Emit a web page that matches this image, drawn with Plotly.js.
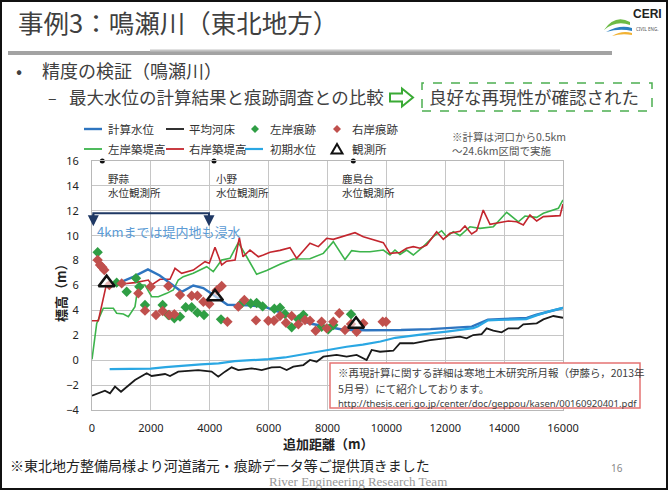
<!DOCTYPE html>
<html><head><meta charset="utf-8">
<script src="https://cdn.plot.ly/plotly-3.0.1.min.js"></script>
<style>html,body{margin:0;padding:0;background:#fff;}#chart{width:668px;height:490px;}</style>
</head><body><div id="chart"></div>
<script>
// ---- data ----
const calcX = [600, 900, 1400, 1900, 2300, 2750, 3050, 3440, 3780, 4150, 4600, 5300, 5850, 6270, 6840, 7400, 7970, 8540, 9300, 10500, 11500, 12300, 12900, 13450, 14000, 14770, 15100, 15500, 16000];
const calcY = [6.1, 6.2, 6.7, 7.3, 6.8, 6.05, 5.5, 6.0, 5.8, 5.2, 4.45, 4.4, 4.3, 3.95, 3.5, 2.95, 2.7, 2.45, 2.4, 2.42, 2.5, 2.6, 2.7, 3.25, 3.3, 3.4, 3.65, 3.9, 4.2];

const bedX = [0, 440, 611, 781, 985, 1460, 1857, 2027, 2480, 2650, 2930, 3610, 4063, 4290, 4517, 4743, 4970, 5423, 5763, 6103, 6386, 6613, 6840, 7180, 7405, 7632, 7858, 8310, 8650, 8990, 9330, 9500, 9783, 10235, 10462, 10915, 11481, 12047, 12500, 12727, 12950, 13237, 13406, 13633, 13916, 14142, 14483, 14652, 15107, 15333, 15673, 16000];
const bedY = [-2.85, -2.45, -2.66, -2.12, -2.53, -1.59, -1.05, -1.27, -1.11, -1.27, -0.92, -0.79, -0.92, -1.32, -0.92, -0.57, -0.79, -0.65, -0.79, -0.57, -0.55, -0.79, -0.52, -0.39, 0.02, -0.12, 0.28, 0.42, 0.28, 0.42, 0.02, 0.82, 0.68, 0.76, 1.36, 1.36, 1.62, 1.76, 1.89, 1.76, 2.02, 2.1, 2.56, 2.37, 2.24, 2.56, 2.56, 2.88, 2.96, 3.28, 3.55, 3.41];

const leveeLX = [0, 160, 385, 725, 838, 1065, 1235, 1460, 1574, 1800, 2027, 2253, 2537, 2763, 2930, 3100, 3440, 3896, 4120, 4405, 4688, 4970, 5255, 5593, 5933, 6386, 6840, 7405, 7858, 8197, 8594, 8820, 9104, 9443, 9896, 10122, 10292, 10462, 10688, 10915, 11254, 11594, 11877, 12047, 12273, 12500, 12840, 13180, 13633, 14086, 14483, 14710, 15107, 15333, 15843, 16000];
const leveeLY = [0.07, 2.96, 4.17, 4.17, 3.77, 3.71, 3.5, 4.3, 6.04, 6.04, 5.1, 5.1, 5.37, 5.64, 6.44, 6.71, 6.98, 7.51, 7.11, 8.05, 8.18, 9.45, 8.31, 6.9, 7.2, 7.7, 8.13, 8.15, 8.58, 9.52, 8.08, 8.8, 8.71, 8.71, 8.85, 8.45, 8.85, 8.5, 8.85, 8.45, 9.12, 9.92, 10.4, 9.92, 10.32, 10.0, 10.72, 10.59, 10.72, 11.88, 11.12, 11.58, 11.47, 11.8, 12.2, 12.87];

const leveeRX = [0, 215, 498, 1008, 1460, 1914, 2027, 2310, 2650, 2820, 3046, 3440, 3838, 3985, 4178, 4405, 4575, 4860, 5005, 5130, 5367, 5650, 5820, 6046, 6386, 6726, 6953, 7405, 7688, 7972, 8197, 8650, 8934, 9217, 9896, 10122, 10462, 10688, 10915, 11142, 11368, 11708, 11934, 12160, 12500, 12670, 12897, 13067, 13290, 13520, 13803, 14142, 14425, 14652, 14878, 15107, 15333, 15900, 16000];
const leveeRY = [3.17, 3.17, 6.17, 6.12, 6.23, 6.44, 6.04, 6.5, 6.5, 7.38, 6.98, 7.24, 7.91, 7.78, 9.07, 7.65, 7.95, 8.05, 9.85, 8.31, 8.85, 8.31, 8.45, 8.67, 8.82, 9.04, 8.18, 9.39, 9.12, 9.79, 9.71, 10.06, 10.24, 9.92, 9.44, 8.58, 8.65, 8.99, 9.12, 8.99, 9.25, 10.32, 9.71, 10.19, 10.35, 10.78, 10.14, 10.4, 12.06, 10.91, 11.04, 11.18, 11.12, 10.86, 11.66, 11.18, 11.53, 11.61, 12.55];

const initX = [600, 2000, 2500, 3150, 3700, 4300, 4850, 5400, 6000, 6550, 7000, 7500, 8000, 8650, 9200, 9800, 10300, 10900, 11500, 12050, 12500, 12950, 13100, 13450, 14000, 14750, 15100, 15500, 16000];
const initY = [-0.72, -0.68, -0.55, -0.4, -0.33, -0.25, -0.07, 0.0, 0.08, 0.22, 0.4, 0.65, 0.85, 1.08, 1.25, 1.5, 1.8, 2.0, 2.15, 2.3, 2.42, 2.58, 2.7, 3.2, 3.25, 3.3, 3.6, 3.9, 4.2];

const markLX = [192, 838, 1178, 1495, 1608, 1800, 2400, 2593, 2797, 2990, 3183, 3387, 3580, 3805, 4382, 5085, 5390, 5593, 5797, 6194, 6386, 6556, 6783, 7010, 7180, 7801, 8027, 8197, 8800];
const markLY = [8.67, 6.23, 5.5, 6.58, 5.9, 4.43, 4.43, 3.63, 3.36, 3.5, 4.25, 4.25, 3.82, 3.63, 3.28, 4.57, 4.55, 4.6, 4.32, 4.13, 4.22, 3.71, 2.64, 3.28, 3.63, 2.69, 2.48, 2.83, 3.69];

const markRX = [192, 272, 350, 418, 588, 1008, 1574, 1800, 1993, 2174, 2400, 2593, 2627, 2797, 2990, 3387, 3580, 3783, 3985, 4235, 4405, 4600, 4970, 5175, 5570, 5990, 6182, 6386, 6590, 6783, 7010, 7236, 7405, 7597, 7801, 7972, 8197, 8401, 8594, 8800, 8990, 9217, 9874, 9987];
const markRY = [8.05, 7.65, 7.46, 7.24, 6.04, 6.17, 5.37, 3.98, 5.9, 3.63, 3.95, 5.95, 3.63, 3.69, 5.24, 5.18, 5.18, 4.7, 4.51, 5.6, 5.96, 3.09, 4.3, 4.83, 3.2, 3.17, 3.17, 3.55, 3.01, 3.55, 2.88, 3.23, 3.17, 2.37, 3.09, 2.56, 3.09, 3.77, 2.43, 2.91, 2.29, 2.96, 3.09, 3.09];

const stationX = [498, 4178, 8970];
const stationY = [6.23, 5.1, 2.88];
const stationDotX = [350, 4145, 8876];
const stationDotY = [16, 16, 16];
const stationNames = ['野蒜<br>水位観測所', '小野<br>水位観測所', '鹿島台<br>水位観測所'];
const stationLabelX = [475, 4145, 8425];

const names = ['計算水位', '平均河床', '左岸痕跡', '右岸痕跡', '左岸築堤高', '右岸築堤高', '初期水位', '観測所'];

// ---- styles ----
const C = {calc: '#2e75c0', bed: '#1a1a1a', markL: '#2f9e44', markR: '#c0504d', levL: '#3cb44b', levR: '#c3262e', init: '#2aa7e3', stn: '#111'};

// ---- helpers ----
const W = 668, H = 490;
const PX = v => v / W, PY = v => 1 - v / H;
const JP = '"Noto Sans CJK JP", "Noto Sans", sans-serif';
const NUM = '"Noto Sans", "Liberation Sans", sans-serif';

const traces = [
  {x: leveeLX, y: leveeLY, name: names[4], mode: 'lines', line: {color: C.levL, width: 1.6}},
  {x: leveeRX, y: leveeRY, name: names[5], mode: 'lines', line: {color: C.levR, width: 1.6}},
  {x: bedX, y: bedY, name: names[1], mode: 'lines', line: {color: C.bed, width: 1.8}},
  {x: calcX, y: calcY, name: names[0], mode: 'lines', line: {color: C.calc, width: 2.4}},
  {x: initX, y: initY, name: names[6], mode: 'lines', line: {color: C.init, width: 2.2}},
  {x: markLX, y: markLY, name: names[2], mode: 'markers', marker: {symbol: 'diamond', size: 8, color: C.markL}},
  {x: markRX, y: markRY, name: names[3], mode: 'markers', marker: {symbol: 'diamond', size: 8, color: C.markR}},
  {x: stationX, y: stationY, name: names[7], mode: 'markers', marker: {symbol: 'triangle-up', size: 14, color: 'rgba(255,255,255,0.6)', line: {color: C.stn, width: 2.5}}},
  {x: stationDotX, y: stationDotY, name: '', mode: 'markers', marker: {size: 5, color: '#111'}, cliponaxis: false}
];

const ann = [];
const A = (x, y, text, size, opts) => ann.push(Object.assign({xref: 'paper', yref: 'paper', x: PX(x), y: PY(y), text: text, showarrow: false, xanchor: 'left', yanchor: 'middle', font: {family: JP, size: size, color: '#404040'}}, opts || {}));

A(16, 22, '事例3：鳴瀬川（東北地方）', 25.5);
A(14, 70, '•', 18);
A(40, 70, '精度の検証（鳴瀬川）', 18);
A(46, 97, '–', 16);
A(67, 97, '最大水位の計算結果と痕跡調査との比較', 17.5);
A(427, 97, '良好な再現性が確認された', 17.5);
A(450, 136, '※計算は河口から0.5km', 10.5, {font: {family: JP, size: 10.5, color: '#555'}});
A(450, 151, '～24.6km区間で実施', 10.5, {font: {family: JP, size: 10.5, color: '#555'}});
A(8, 465, '※東北地方整備局様より河道諸元・痕跡データ等ご提供頂きました', 14, {font: {family: JP, size: 14, color: '#222'}});
A(617, 468, '16', 10, {xanchor: 'center', font: {family: NUM, size: 10, color: '#888'}});
A(358, 481, 'River Engineering Research Team', 13, {xanchor: 'center', font: {family: '"Liberation Serif", serif', size: 13, color: '#999'}});
A(60, 290, '標高（m）', 13, {xanchor: 'center', textangle: -90, font: {family: JP, size: 13, color: '#222', weight: 'bold'}});
A(328, 443, '追加距離（m）', 13, {xanchor: 'center', font: {family: JP, size: 13, color: '#222', weight: 'bold'}});
A(336, 372, '※再現計算に関する詳細は寒地土木研究所月報（伊藤ら，2013年', 10.5, {font: {family: JP, size: 10.5, color: '#404040'}});
A(336, 388, '5月号）にて紹介しております。', 10.5, {font: {family: JP, size: 10.5, color: '#404040'}});
A(336, 403, 'http://thesis.ceri.go.jp/center/doc/geppou/kasen/00160920401.pdf', 9.5, {font: {family: NUM, size: 9.5, color: '#404040'}});
A(631, 14, 'CERI', 12, {font: {family: '"Liberation Sans Narrow", "Liberation Sans", sans-serif', size: 12, color: '#222', weight: 'bold'}});
A(634, 29, 'CIVIL ENG.', 4.5, {font: {family: NUM, size: 4.5, color: '#555'}});

// manual legend (two rows, four columns)
const legCols = [84, 166, 245, 327];
const legRows = [129, 149];
const legItems = [
  {n: names[0], kind: 'line', color: C.calc, w: 2.4},
  {n: names[1], kind: 'line', color: C.bed, w: 1.8},
  {n: names[2], kind: 'diamond', color: C.markL},
  {n: names[3], kind: 'diamond', color: C.markR},
  {n: names[4], kind: 'line', color: C.levL, w: 1.8},
  {n: names[5], kind: 'line', color: C.levR, w: 1.8},
  {n: names[6], kind: 'line', color: C.init, w: 2.2},
  {n: names[7], kind: 'triangle', color: C.stn}
];
const legTextX = [106, 187, 268, 350];

const shapes = [
  // slide frame
  {type: 'rect', xref: 'paper', yref: 'paper', x0: PX(1), x1: PX(667), y0: PY(489), y1: PY(1), line: {color: '#111', width: 2}},
  // brush stroke under title
  {type: 'line', xref: 'paper', yref: 'paper', x0: PX(8), x1: PX(612), y0: PY(53), y1: PY(53), line: {color: '#a3a3a3', width: 4}},
  {type: 'line', xref: 'paper', yref: 'paper', x0: PX(150), x1: PX(560), y0: PY(50.5), y1: PY(50.5), line: {color: '#c4c4c4', width: 2}},
  // dashed result box
  {type: 'rect', xref: 'paper', yref: 'paper', x0: PX(422), x1: PX(652), y0: PY(111), y1: PY(83), line: {color: '#4caf50', width: 1.5, dash: 'dash'}},
  // outline arrow
  {type: 'path', xref: 'paper', yref: 'paper', path: `M${PX(390)},${PY(93.5)} L${PX(402)},${PY(93.5)} L${PX(402)},${PY(88.5)} L${PX(413)},${PY(97.5)} L${PX(402)},${PY(106.5)} L${PX(402)},${PY(101.5)} L${PX(390)},${PY(101.5)} Z`, line: {color: '#3aaa35', width: 2}, fillcolor: 'white'},
  // logo swooshes
  {type: 'path', xref: 'paper', yref: 'paper', path: `M${PX(604)},${PY(30)} Q${PX(615)},${PY(14)} ${PX(630)},${PY(22)} L${PX(630)},${PY(25)} Q${PX(616)},${PY(20)} ${PX(604)},${PY(30)} Z`, line: {width: 0}, fillcolor: '#6dbb45'},
  {type: 'path', xref: 'paper', yref: 'paper', path: `M${PX(606)},${PY(32)} Q${PX(620)},${PY(24)} ${PX(632)},${PY(28)} L${PX(632)},${PY(31)} Q${PX(620)},${PY(28)} ${PX(606)},${PY(32)} Z`, line: {width: 0}, fillcolor: '#2a7fc0'},
  {type: 'path', xref: 'paper', yref: 'paper', path: `M${PX(612)},${PY(36)} Q${PX(622)},${PY(30)} ${PX(632)},${PY(33)} L${PX(632)},${PY(35)} Q${PX(622)},${PY(33)} ${PX(612)},${PY(36)} Z`, line: {width: 0}, fillcolor: '#f2b233'},
  // flood bracket
  {type: 'path', xref: 'x', yref: 'y', path: 'M45,11.0 L45,11.8 L3975,11.8 L3975,11.0', line: {color: '#1f3864', width: 2}},
  // note box
  {type: 'rect', xref: 'paper', yref: 'paper', x0: PX(330), x1: PX(640), y0: PY(408), y1: PY(363), line: {color: '#e57373', width: 1.5}, fillcolor: 'white', layer: 'above'}
];

legItems.forEach((it, i) => {
  const col = i % 4, row = Math.floor(i / 4);
  const cx = legCols[col], cy = legRows[row];
  if (it.kind === 'line') {
    shapes.push({type: 'line', xref: 'paper', yref: 'paper', x0: PX(cx), x1: PX(cx + 18), y0: PY(cy), y1: PY(cy), line: {color: it.color, width: it.w}});
  } else if (it.kind === 'diamond') {
    const m = cx + 10;
    shapes.push({type: 'path', xref: 'paper', yref: 'paper', path: `M${PX(m)},${PY(cy - 4)} L${PX(m + 4)},${PY(cy)} L${PX(m)},${PY(cy + 4)} L${PX(m - 4)},${PY(cy)} Z`, line: {width: 0}, fillcolor: it.color});
  } else {
    const m = cx + 10;
    shapes.push({type: 'path', xref: 'paper', yref: 'paper', path: `M${PX(m)},${PY(cy - 5)} L${PX(m + 5.5)},${PY(cy + 4.5)} L${PX(m - 5.5)},${PY(cy + 4.5)} Z`, line: {color: it.color, width: 2}, fillcolor: 'rgba(0,0,0,0)'});
  }
  A(legTextX[col], cy, it.n, 11.5, {font: {family: JP, size: 11.5, color: '#333'}});
});

// station labels (data coords)
for (let i = 0; i < stationNames.length; i++) {
  ann.push({xref: 'x', yref: 'y', x: stationLabelX[i], y: 14.05, text: stationNames[i], showarrow: false, xanchor: 'left', yanchor: 'middle', align: 'left', font: {family: JP, size: 10.5, color: '#333'}});
}
// flood range label + arrows
ann.push({xref: 'x', yref: 'y', x: 90, y: 10.3, text: '4kmまでは堤内地も浸水', showarrow: false, xanchor: 'left', yanchor: 'middle', font: {family: JP, size: 13, color: '#5b9bd5'}});
[45, 3975].forEach(xv => ann.push({xref: 'x', yref: 'y', x: xv, y: 10.75, ax: xv, ay: 11.85, axref: 'x', ayref: 'y', text: '', showarrow: true, arrowhead: 2, arrowsize: 1.1, arrowwidth: 2, arrowcolor: '#1f3864'}));

const layout = {
  width: W, height: H,
  margin: {l: 0, r: 0, t: 0, b: 0},
  paper_bgcolor: 'white', plot_bgcolor: 'white',
  showlegend: false,
  xaxis: {domain: [PX(92), PX(563)], range: [0, 16000], dtick: 2000, tick0: 0, tickformat: 'd', showgrid: true, gridcolor: '#c6c6c6', gridwidth: 1, zeroline: false, showline: true, mirror: true, linecolor: '#b8b8b8', linewidth: 1, ticks: '', ticklabelstandoff: 8, tickfont: {family: NUM, size: 11, color: '#222'}, fixedrange: true},
  yaxis: {domain: [PY(410), PY(161)], range: [-4, 16], dtick: 2, tick0: -4, tickformat: 'd', showgrid: true, gridcolor: '#c6c6c6', gridwidth: 1, zeroline: false, showline: true, mirror: true, linecolor: '#b8b8b8', linewidth: 1, ticks: '', ticklabelstandoff: 10, tickfont: {family: NUM, size: 11, color: '#222'}, fixedrange: true},
  annotations: ann,
  shapes: shapes
};

Plotly.newPlot('chart', traces, layout, {displayModeBar: false, staticPlot: true});
</script>
</body></html>
